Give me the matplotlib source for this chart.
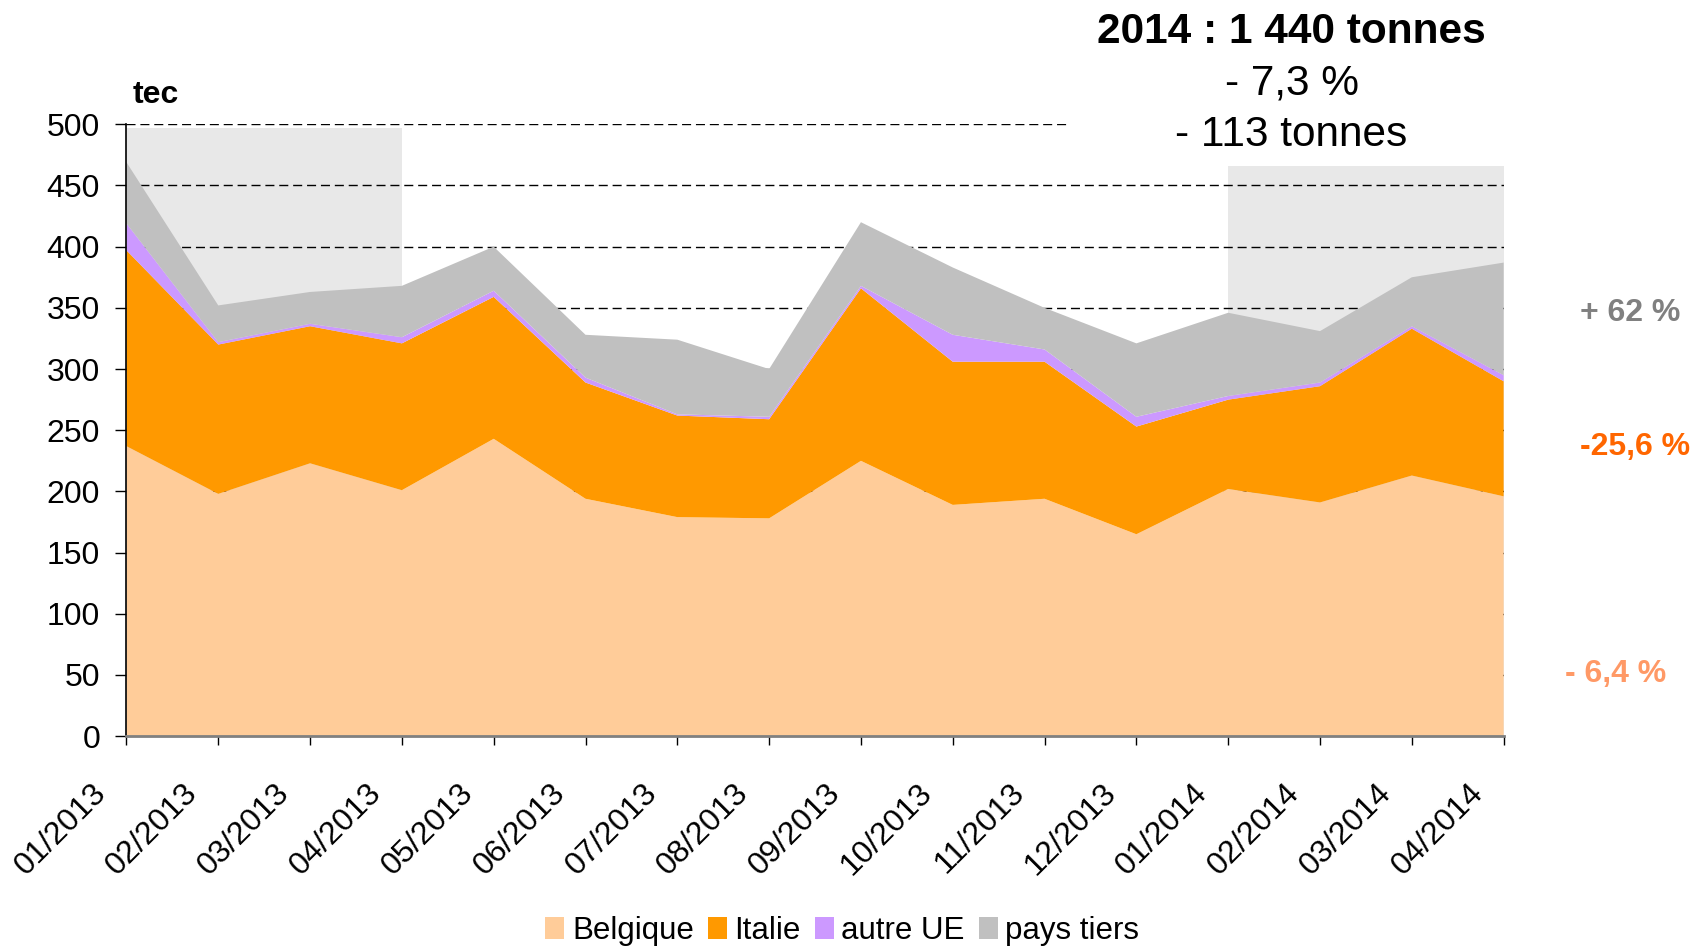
import matplotlib
matplotlib.use('Agg')
import matplotlib.pyplot as plt
import matplotlib.transforms as mtransforms
from matplotlib.patches import Rectangle
import numpy as np

plt.rcParams['font.family'] = ['Liberation Sans', 'DejaVu Sans']

months = ['01/2013', '02/2013', '03/2013', '04/2013', '05/2013', '06/2013',
          '07/2013', '08/2013', '09/2013', '10/2013', '11/2013', '12/2013',
          '01/2014', '02/2014', '03/2014', '04/2014']
belgique = [237, 198, 223, 201, 243, 194, 179, 178, 225, 189, 194, 165, 202, 191, 213, 196]
italie = [160, 122, 112, 120, 116, 95, 83, 81, 141, 117, 112, 88, 73, 95, 120, 94]
autre_ue = [22, 2, 2, 5, 5, 4, 1, 2, 2, 22, 10, 8, 3, 3, 2, 5]
pays_tiers = [50, 30, 26, 42, 36, 35, 61, 39, 52, 55, 34, 60, 68, 42, 40, 92]

series_names = ['Belgique', 'Italie', 'autre UE', 'pays tiers']
colors = ['#FFCC99', '#FF9900', '#CC99FF', '#C0C0C0']

# shaded comparison periods (first 4 months of each year): (start, end, top)
shade_2013 = ('01/2013', '04/2013', 497)
shade_2014 = ('01/2014', '04/2014', 466)

title_lines = ['2014 : 1 440 tonnes', '- 7,3 %', '- 113 tonnes']
evolutions = [('+ 62 %', '#808080'), ('-25,6 %', '#FF6600'), ('- 6,4 %', '#FF9966')]

FS = 23

fig = plt.figure(figsize=(16.95, 9.46), dpi=100)
ax = fig.add_axes([0.0746, 0.2218, 0.8125, 0.6468])

x = np.arange(len(months))

for start, end, top in (shade_2013, shade_2014):
    i0, i1 = months.index(start), months.index(end)
    ax.fill_between([i0, i1], 0, top, color='#E8E8E8', lw=0, zorder=0.2)

ax.stackplot(x, belgique, italie, autre_ue, pays_tiers, colors=colors,
             labels=series_names, lw=0, zorder=1)

ax.set_xlim(0, len(months) - 1)
ax.set_ylim(0, 500)
ax.set_yticks(np.arange(0, 501, 50))
ax.set_xticks(x)
ax.set_xticklabels(months, fontsize=FS, rotation=45, ha='right',
                   rotation_mode='anchor', va='center')
ax.tick_params(axis='y', labelsize=FS, length=8, width=1, pad=11, direction='out')
ax.tick_params(axis='x', length=6.5, width=1, pad=0, direction='out')
offset = mtransforms.ScaledTranslation(-18 / 72, -31 / 72, fig.dpi_scale_trans)
for lab in ax.get_xticklabels():
    lab.set_transform(lab.get_transform() + offset)

ax.set_axisbelow(True)
ax.yaxis.grid(True, color='black', lw=1, linestyle=(0, (6.5, 3.5)), zorder=0.5)
ax.xaxis.grid(False)

for side in ('top', 'right'):
    ax.spines[side].set_visible(False)
ax.spines['left'].set_color('black')
ax.spines['left'].set_linewidth(1.2)
ax.spines['bottom'].set_color('#808080')
ax.spines['bottom'].set_linewidth(2)
ax.spines['left'].set_zorder(3)
ax.spines['bottom'].set_zorder(3)

fig.text(133 / 1695, 1 - 95 / 946, 'tec', fontsize=FS, fontweight='bold',
         ha='left', va='center')

# white box behind the headline
fig.patches.append(Rectangle((1070 / 1695, 1 - 155 / 946), 450 / 1695, 155 / 946,
                             transform=fig.transFigure, facecolor='white',
                             edgecolor='none', zorder=1))
fig.text(0.762, 1 - 32 / 946, title_lines[0], fontsize=30.5, fontweight='bold',
         ha='center', va='center', zorder=2)
fig.text(0.762, 1 - 84 / 946, title_lines[1], fontsize=30.5,
         ha='center', va='center', zorder=2)
fig.text(0.762, 1 - 135 / 946, title_lines[2], fontsize=30.5,
         ha='center', va='center', zorder=2)

ev_pos = [(1580, 313), (1580, 447), (1565, 674)]
for (txt, col), (px, py) in zip(evolutions, ev_pos):
    fig.text(px / 1695, 1 - py / 946, txt, fontsize=FS, fontweight='bold',
             color=col, ha='left', va='center')

handles, labels = ax.get_legend_handles_labels()
fig.legend(handles, labels, loc='center', bbox_to_anchor=(0.497, 0.016),
           ncol=4, frameon=False, fontsize=22.5, handlelength=0.6,
           handleheight=0.72, handletextpad=0.25, columnspacing=0.45,
           borderaxespad=0, borderpad=0)

fig.savefig('out.png', dpi=100)
